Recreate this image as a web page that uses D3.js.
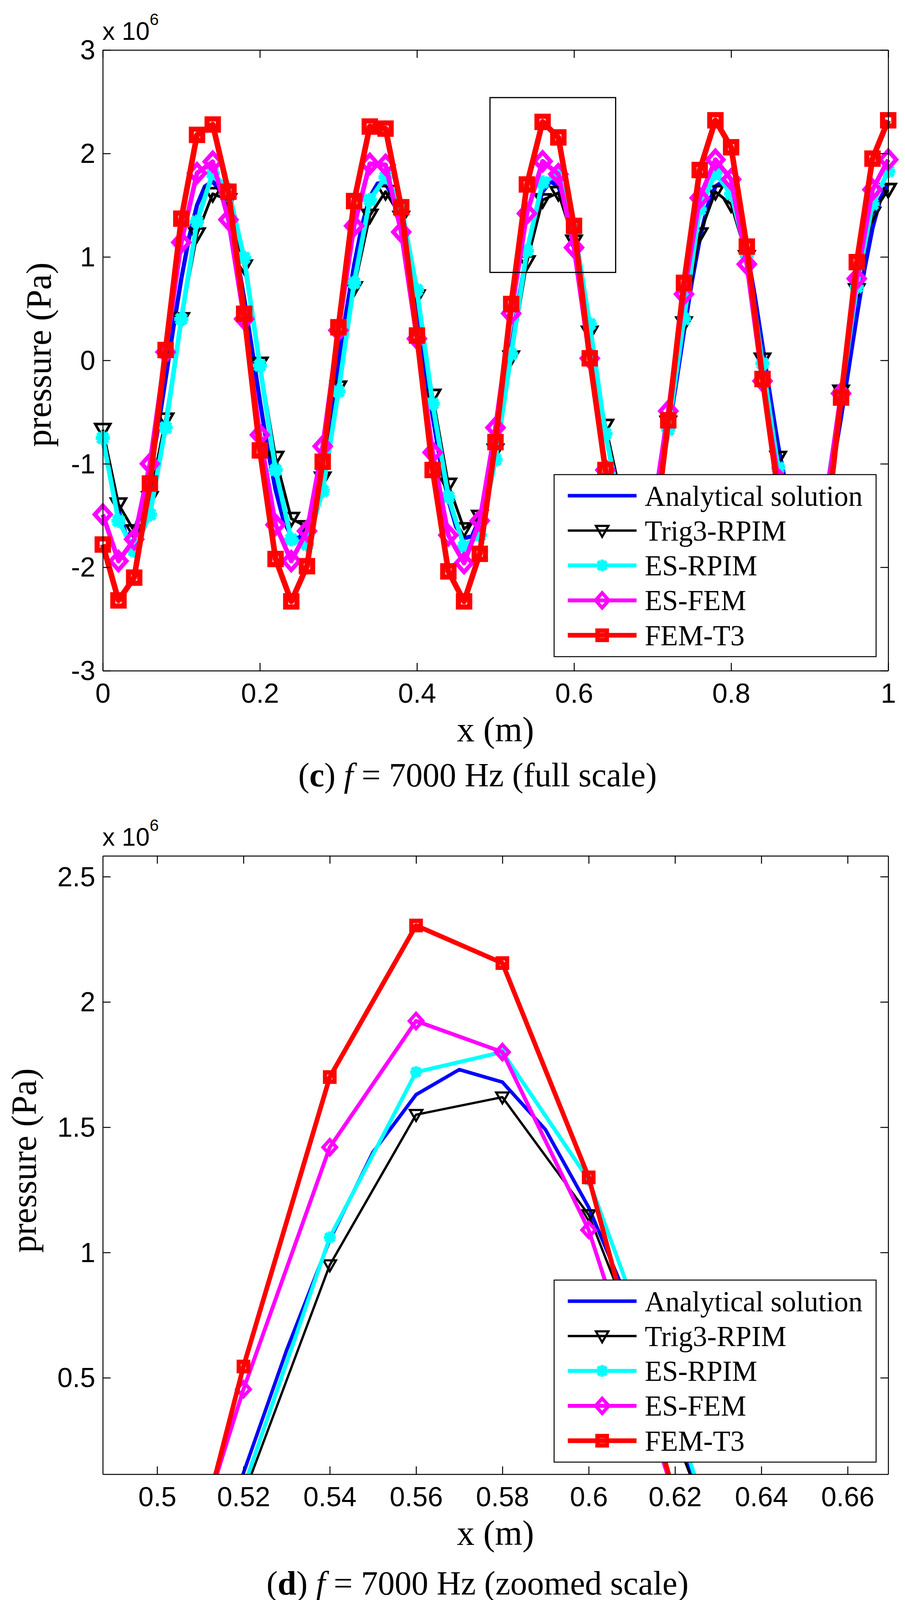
<!DOCTYPE html>
<html>
<head>
<meta charset="utf-8">
<script src="https://cdnjs.cloudflare.com/ajax/libs/d3/7.8.5/d3.min.js"></script>
<style>
body{margin:0;background:#fff;}
svg{display:block;}
</style>
</head>
<body>
<svg class="chart"></svg>
<script>
// mesh nodes along the duct (m)
var xNodes = [0,0.02,0.04,0.06,0.08,0.1,0.12,0.14,0.16,0.18,
  0.2,0.22,0.24,0.26,0.28,0.3,0.32,0.34,0.36,0.38,
  0.4,0.42,0.44,0.46,0.48,0.5,0.52,0.54,0.56,0.58,
  0.6,0.62,0.64,0.66,0.68,0.7,0.72,0.74,0.76,0.78,
  0.8,0.82,0.84,0.86,0.88,0.9,0.92,0.94,0.96,0.98,1];
// the exact solution is plotted on a finer grid
var xFine = [0,0.01,0.02,0.03,0.04,0.05,0.06,0.07,0.08,0.09,
  0.1,0.11,0.12,0.13,0.14,0.15,0.16,0.17,0.18,0.19,
  0.2,0.21,0.22,0.23,0.24,0.25,0.26,0.27,0.28,0.29,
  0.3,0.31,0.32,0.33,0.34,0.35,0.36,0.37,0.38,0.39,
  0.4,0.41,0.42,0.43,0.44,0.45,0.46,0.47,0.48,0.49,
  0.5,0.51,0.52,0.53,0.54,0.55,0.56,0.57,0.58,0.59,
  0.6,0.61,0.62,0.63,0.64,0.65,0.66,0.67,0.68,0.69,
  0.7,0.71,0.72,0.73,0.74,0.75,0.76,0.77,0.78,0.79,
  0.8,0.81,0.82,0.83,0.84,0.85,0.86,0.87,0.88,0.89,
  0.9,0.91,0.92,0.93,0.94,0.95,0.96,0.97,0.98,0.99,1];

// pressure, x 10^6 Pa
var analytical = [-0.78,-1.12,-1.45,-1.70,-1.65,-1.43,-1.10,-0.67,-0.18,0.32,
  0.79,1.19,1.50,1.68,1.73,1.63,1.39,1.04,0.60,0.11,
  -0.39,-0.86,-1.25,-1.54,-1.70,-1.72,-1.60,-1.34,-0.97,-0.52,
  -0.03,0.47,0.92,1.30,1.58,1.71,1.71,1.57,1.29,0.91,
  0.45,-0.05,-0.54,-0.99,-1.35,-1.61,-1.72,-1.70,-1.53,-1.24,
  -0.84,-0.37,0.12,0.61,1.05,1.40,1.63,1.73,1.68,1.49,
  1.18,0.77,0.30,-0.20,-0.69,-1.11,-1.44,-1.66,-1.73,-1.66,
  -1.45,-1.12,-0.70,-0.22,0.28,0.76,1.17,1.49,1.68,1.73,
  1.64,1.41,1.06,0.63,0.14,-0.36,-0.83,-1.22,-1.52,-1.69,
  -1.72,-1.61,-1.36,-1.00,-0.55,-0.06,0.43,0.89,1.28,1.56,1.71];
var trig3Rpim = [-0.67,-1.39,-1.65,-1.33,-0.57,0.40,1.22,1.61,1.55,0.91,
  -0.03,-0.94,-1.53,-1.61,-1.14,-0.26,0.70,1.40,1.63,1.38,
  0.62,-0.34,-1.20,-1.63,-1.51,-0.87,0.03,0.95,1.55,1.62,
  1.15,0.27,-0.63,-1.32,-1.64,-1.45,-0.60,0.36,1.22,1.63,
  1.51,1.00,0.01,-0.94,-1.52,-1.65,-1.30,-0.30,0.68,1.42,1.65];
var esRpim = [-0.75,-1.55,-1.84,-1.49,-0.65,0.40,1.34,1.81,1.65,0.99,
  -0.05,-1.06,-1.73,-1.78,-1.26,-0.30,0.75,1.55,1.77,1.49,
  0.68,-0.42,-1.32,-1.80,-1.69,-0.96,0.06,1.06,1.72,1.80,
  1.29,0.35,-0.71,-1.45,-1.82,-1.62,-0.67,0.40,1.46,1.81,
  1.61,1.01,-0.03,-1.04,-1.65,-1.82,-1.38,-0.34,0.71,1.51,1.83];
var esFem = [-1.49,-1.94,-1.73,-1.00,0.08,1.14,1.81,1.92,1.36,0.40,
  -0.72,-1.59,-1.94,-1.65,-0.83,0.29,1.30,1.90,1.89,1.24,
  0.21,-0.89,-1.69,-1.96,-1.55,-0.65,0.454,1.42,1.924,1.80,
  1.09,0.02,-1.06,-1.75,-1.95,-1.50,-0.49,0.64,1.57,1.94,
  1.75,0.93,-0.20,-1.15,-1.85,-1.95,-1.40,-0.32,0.79,1.65,1.94];
var femT3 = [-1.78,-2.32,-2.10,-1.19,0.10,1.37,2.18,2.28,1.63,0.45,
  -0.87,-1.92,-2.33,-1.99,-0.98,0.32,1.54,2.26,2.24,1.48,
  0.24,-1.06,-2.04,-2.33,-1.87,-0.79,0.545,1.70,2.305,2.155,
  1.30,0.02,-1.06,-2.05,-2.33,-1.85,-0.58,0.75,1.84,2.32,
  2.06,1.10,-0.18,-1.28,-2.15,-2.30,-1.70,-0.36,0.95,1.95,2.32];

var seriesNames = ["Analytical solution","Trig3-RPIM","ES-RPIM","ES-FEM","FEM-T3"];

var xTicksFull = [0,0.2,0.4,0.6,0.8,1];
var yTicksFull = [-3,-2,-1,0,1,2,3];
var xTicksZoom = [0.5,0.52,0.54,0.56,0.58,0.6,0.62,0.64,0.66];
var yTicksZoom = [0.5,1,1.5,2,2.5];
// window of panel (d), drawn as a box on panel (c): x0, x1, y0, y1
var zoomWindow = [0.493,0.653,0.85,2.54];

var W = 2316, H = 4120;
var svg = d3.select(".chart").attr("width",W).attr("height",H);
svg.append("rect").attr("width",W).attr("height",H).attr("fill","#fff");

var series = [
  {x:xFine, y:analytical, color:"#0000ff", width:9, marker:null},
  {x:xNodes, y:trig3Rpim, color:"#000000", width:6, marker:"tri"},
  {x:xNodes, y:esRpim, color:"#00ffff", width:10, marker:"star"},
  {x:xNodes, y:esFem, color:"#ff00ff", width:10, marker:"diamond"},
  {x:xNodes, y:femT3, color:"#ff0000", width:12, marker:"square"}
];

function markerPath(kind){
  if(kind=="tri") return "M-16,-12L16,-12L0,16Z";
  if(kind=="star") return "M-15,0L15,0M0,-15L0,15M-11,-11L11,11M-11,11L11,-11";
  if(kind=="diamond") return "M0,-19L17,0L0,19L-17,0Z";
  if(kind=="square") return "M-12,-12L12,-12L12,12L-12,12Z";
  return "";
}
var markerStroke = {tri:5.5, star:9, diamond:9, square:11};

var panels = [
  {id:"full", left:263, right:2273, top:128, bottom:1717,
   xDomain:[0,1], yDomain:[-3,3], xTicks:xTicksFull, yTicks:yTicksFull,
   clip:false, showWindow:true, legendTop:1215, expY:102, weight:1.2,
   ylabX:130, ylabY:908, xlabY:1898, capY:2013, capLetter:"c", capTail:" = 7000 Hz (full scale)"},
  {id:"zoom", left:263, right:2273, top:2191, bottom:3774,
   xDomain:[0.4874,0.6694], yDomain:[0.115,2.583], xTicks:xTicksZoom, yTicks:yTicksZoom,
   clip:true, showWindow:false, legendTop:3277, expY:2165, weight:1,
   ylabX:92, ylabY:2971, xlabY:3955, capY:4082, capLetter:"d", capTail:" = 7000 Hz (zoomed scale)"}
];

panels.forEach(function(p){
  var x = d3.scaleLinear().domain(p.xDomain).range([p.left,p.right]);
  var y = d3.scaleLinear().domain(p.yDomain).range([p.bottom,p.top]);
  var g = svg.append("g").attr("class","panel-"+p.id);

  var plot = g.append("g");
  if(p.clip){
    svg.append("clipPath").attr("id","clip-"+p.id)
      .append("rect")
      .attr("x",p.left).attr("y",p.top)
      .attr("width",p.right-p.left).attr("height",p.bottom-p.top);
    plot.attr("clip-path","url(#clip-"+p.id+")");
  }

  series.forEach(function(s){
    var pts = s.x.map(function(v,i){ return [v,s.y[i]]; });
    var line = d3.line()
      .x(function(d){ return x(d[0]); })
      .y(function(d){ return y(d[1]); });
    plot.append("path")
      .attr("d",line(pts))
      .attr("fill","none")
      .attr("stroke",s.color)
      .attr("stroke-width",s.width*p.weight)
      .attr("stroke-linejoin","round");
    if(s.marker){
      plot.selectAll(null)
        .data(pts)
        .enter()
        .append("path")
        .attr("d",markerPath(s.marker))
        .attr("transform",function(d){ return "translate("+x(d[0])+","+y(d[1])+") scale("+p.weight+")"; })
        .attr("fill","none")
        .attr("stroke",s.color)
        .attr("stroke-width",markerStroke[s.marker]);
    }
  });

  if(p.showWindow){
    g.append("rect")
      .attr("x",x(zoomWindow[0]))
      .attr("y",y(zoomWindow[3]))
      .attr("width",x(zoomWindow[1])-x(zoomWindow[0]))
      .attr("height",y(zoomWindow[2])-y(zoomWindow[3]))
      .attr("fill","none")
      .attr("stroke","#000")
      .attr("stroke-width",3);
  }

  // axes: MATLAB style box with inward ticks
  var axes = [
    g.append("g").attr("transform","translate(0,"+p.bottom+")")
      .call(d3.axisBottom(x).tickValues(p.xTicks).tickSizeInner(-20).tickSizeOuter(0).tickPadding(32).tickFormat(String)),
    g.append("g").attr("transform","translate(0,"+p.top+")")
      .call(d3.axisTop(x).tickValues(p.xTicks).tickSizeInner(-20).tickSizeOuter(0).tickFormat("")),
    g.append("g").attr("transform","translate("+p.left+",0)")
      .call(d3.axisLeft(y).tickValues(p.yTicks).tickSizeInner(-20).tickSizeOuter(0).tickPadding(19).tickFormat(String)),
    g.append("g").attr("transform","translate("+p.right+",0)")
      .call(d3.axisRight(y).tickValues(p.yTicks).tickSizeInner(-20).tickSizeOuter(0).tickFormat(""))
  ];
  axes.forEach(function(a){
    a.attr("font-family","'Liberation Sans', Arial, sans-serif").attr("font-size",70);
    a.select(".domain").attr("stroke","#000").attr("stroke-width",2.5);
    a.selectAll(".tick line").attr("stroke","#000").attr("stroke-width",2.5);
    a.selectAll(".tick text").attr("fill","#000");
  });
  axes[2].selectAll(".tick text").attr("dy","0.34em");

  // exponent label
  var ex = g.append("text")
    .attr("x",262).attr("y",p.expY)
    .attr("font-family","'Liberation Sans', Arial, sans-serif")
    .attr("font-size",64);
  ex.append("tspan").text("x 10");
  ex.append("tspan").attr("dy",-38).attr("font-size",42).text("6");

  // axis titles
  g.append("text")
    .attr("transform","translate("+p.ylabX+","+p.ylabY+") rotate(-90)")
    .attr("text-anchor","middle")
    .attr("font-family","'Liberation Serif', 'Times New Roman', serif")
    .attr("font-size",90)
    .text("pressure (Pa)");
  g.append("text")
    .attr("x",(p.left+p.right)/2).attr("y",p.xlabY)
    .attr("text-anchor","middle")
    .attr("font-family","'Liberation Serif', 'Times New Roman', serif")
    .attr("font-size",90)
    .text("x (m)");

  // legend
  var lg = g.append("g").attr("transform","translate(1418,"+p.legendTop+")");
  lg.append("rect")
    .attr("width",824).attr("height",466)
    .attr("fill","#fff").attr("stroke","#000").attr("stroke-width",2.5);
  var rows = lg.selectAll("g.row")
    .data(series)
    .enter()
    .append("g")
    .attr("class","row")
    .attr("transform",function(d,i){ return "translate(0,"+(54+i*89.3)+")"; });
  rows.append("line")
    .attr("x1",35).attr("x2",211)
    .attr("stroke",function(d){ return d.color; })
    .attr("stroke-width",function(d){ return d.width; });
  rows.filter(function(d){ return d.marker; })
    .append("path")
    .attr("d",function(d){ return markerPath(d.marker); })
    .attr("transform","translate(123,0)")
    .attr("fill","none")
    .attr("stroke",function(d){ return d.color; })
    .attr("stroke-width",function(d){ return markerStroke[d.marker]; });
  rows.append("text")
    .attr("x",232).attr("dy","0.35em")
    .attr("font-family","'Liberation Serif', 'Times New Roman', serif")
    .attr("font-size",73)
    .text(function(d,i){ return seriesNames[i]; });

  // caption
  var cap = g.append("text")
    .attr("x",1222).attr("y",p.capY)
    .attr("text-anchor","middle")
    .attr("font-family","'Liberation Serif', 'Times New Roman', serif")
    .attr("font-size",86);
  cap.append("tspan").text("(");
  cap.append("tspan").attr("font-weight","bold").text(p.capLetter);
  cap.append("tspan").text(") ");
  cap.append("tspan").attr("font-style","italic").text("f");
  cap.append("tspan").text(p.capTail);
});
</script>
</body>
</html>
